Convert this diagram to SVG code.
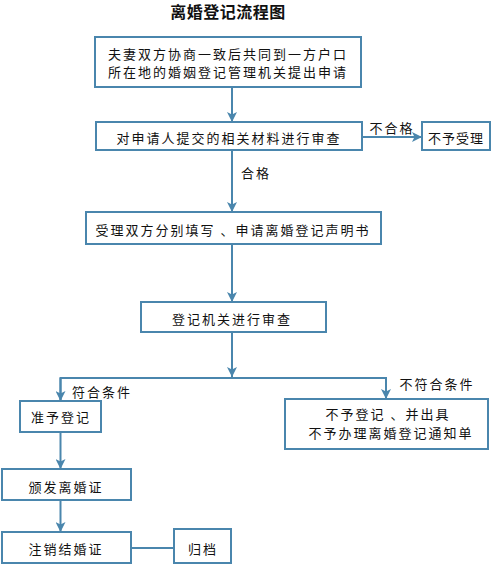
<svg xmlns="http://www.w3.org/2000/svg" width="492" height="565" viewBox="0 0 492 565">
<defs>
<marker id="ah" viewBox="0 0 10 10" refX="10" refY="5" markerWidth="10" markerHeight="10" markerUnits="userSpaceOnUse" orient="auto">
<path d="M0,0 L10,5 L0,10 L2.5,5 Z" fill="#4a86ad"/>
</marker>
<style>
rect{fill:#fff;stroke:#4a86ad;stroke-width:2}
line,polyline{stroke:#4a86ad;stroke-width:2;fill:none}
text{font-family:"Noto Sans CJK SC","Noto Sans",sans-serif;font-size:13px;fill:#111;text-anchor:middle;dominant-baseline:central;letter-spacing:2px}
.t{font-size:16px;font-weight:bold;letter-spacing:0.5px}
</style>
</defs>
<rect width="492" height="565" style="fill:#fff;stroke:none"/>
<text class="t" x="228" y="11">离婚登记流程图</text>
<g id="connectors">
<line x1="232" y1="87" x2="232" y2="122" marker-end="url(#ah)"/>
<line x1="362" y1="137" x2="422" y2="137" marker-end="url(#ah)"/>
<line x1="232" y1="150" x2="232" y2="212" marker-end="url(#ah)"/>
<line x1="232" y1="244" x2="232" y2="302" marker-end="url(#ah)"/>
<line x1="232" y1="332" x2="232" y2="377" marker-end="url(#ah)"/>
<polyline points="60.5,401 60.5,378 386,378 386,399"/>
<line x1="60.5" y1="378" x2="60.5" y2="401" marker-end="url(#ah)"/>
<line x1="386" y1="378" x2="386" y2="399" marker-end="url(#ah)"/>
<line x1="60.5" y1="432" x2="60.5" y2="469" marker-end="url(#ah)"/>
<line x1="60.5" y1="500" x2="60.5" y2="532" marker-end="url(#ah)"/>
<line x1="131" y1="548" x2="174" y2="548"/>
<text x="392" y="127">不合格</text>
<text x="256" y="172">合格</text>
<text x="102" y="391">符合条件</text>
<text x="437" y="383">不符合条件</text>
</g>
<g id="n1"><rect x="95" y="37" width="266" height="50"/>
<text x="228" y="53">夫妻双方协商一致后共同到一方户口</text>
<text x="228" y="71">所在地的婚姻登记管理机关提出申请</text></g>
<g id="n2"><rect x="96" y="122" width="266" height="28"/>
<text x="229" y="137">对申请人提交的相关材料进行审查</text></g>
<g id="n3"><rect x="422" y="122" width="68" height="28"/>
<text x="456" y="137" style="letter-spacing:1px">不予受理</text></g>
<g id="n4"><rect x="86" y="212" width="295" height="32"/>
<text x="233" y="229">受理双方分别填写 、申请离婚登记声明书</text></g>
<g id="n5"><rect x="141" y="302" width="185" height="30"/>
<text x="232" y="318">登记机关进行审查</text></g>
<g id="n6"><rect x="20" y="401" width="81" height="31"/>
<text x="61" y="416">准予登记</text></g>
<g id="n7"><rect x="285" y="399" width="203" height="50"/>
<text x="388" y="413">不予登记 、并出具</text>
<text x="391" y="432">不予办理离婚登记通知单</text></g>
<g id="n8"><rect x="2" y="469" width="129" height="31"/>
<text x="66" y="486">颁发离婚证</text></g>
<g id="n9"><rect x="2" y="532" width="129" height="31"/>
<text x="66" y="548">注销结婚证</text></g>
<g id="n10"><rect x="174" y="529" width="57" height="34"/>
<text x="203" y="548">归档</text></g>
</svg>
